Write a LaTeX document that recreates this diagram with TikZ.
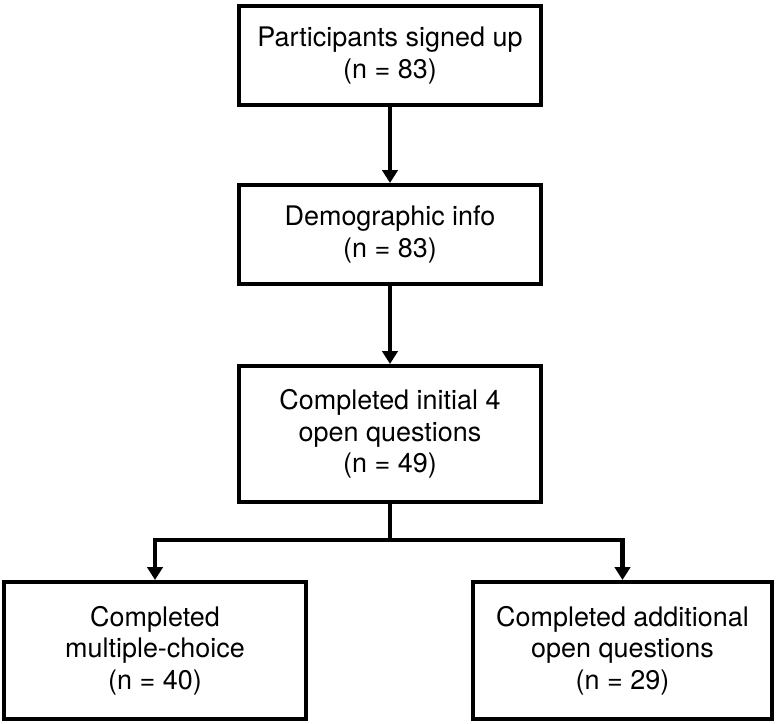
\documentclass[tikz,border=0pt]{standalone}
\usepackage{fontspec}
\setmainfont{TeX Gyre Heros}
\usetikzlibrary{arrows.meta}

\tikzset{
  flowbox/.style={draw, line width=3.4pt, minimum width=9.06cm, align=center,
    inner sep=0pt, font=\fontsize{23}{27}\selectfont},
  flowline/.style={line width=3.6pt},
  flowarrow/.style={flowline, -{Triangle[length=11pt,width=13pt]}}
}

\begin{document}
\begin{tikzpicture}[x=0.03cm, y=-0.03cm]
    \useasboundingbox (0,0) rectangle (779,724);

    %% Boxes
    \node[flowbox, minimum height=2.97cm] (signed) at (390,55.5) {Participants signed up\\(n = 83)};
    \node[flowbox, minimum height=2.97cm] (demo) at (390,234.5) {Demographic info\\(n = 83)};
    \node[flowbox, minimum height=4.08cm] (initial) at (390,434) {Completed initial 4\\open questions\\(n = 49)};
    \node[flowbox, minimum height=4.11cm] (multi) at (155,650.5) {Completed\\multiple-choice\\(n = 40)};
    \node[flowbox, minimum height=4.11cm, minimum width=8.97cm] (extra) at (622.5,650.5) {Completed additional\\open questions\\(n = 29)};

    % Split point
    \coordinate (split) at (390,540);

    %% Connectors
    \draw[flowarrow] (signed) -- (demo);
    \draw[flowarrow] (demo) -- (initial);
    \draw[flowline] (initial) -- (split);
    \draw[flowarrow] (split) -| (multi.north);
    \draw[flowarrow] (split) -| (extra.north);

\end{tikzpicture}
\end{document}
